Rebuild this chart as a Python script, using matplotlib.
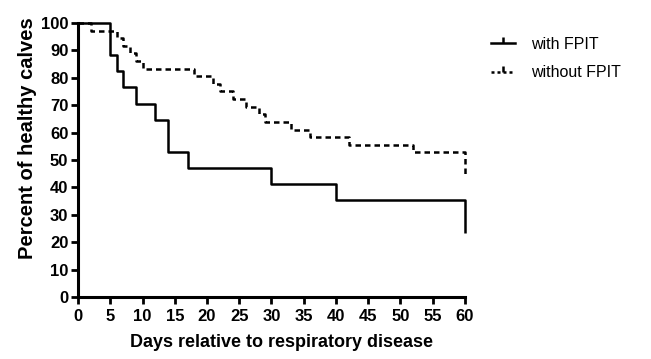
import matplotlib
matplotlib.use("Agg")
import matplotlib.pyplot as plt
from matplotlib.lines import Line2D

plt.rcParams['font.family'] = ['Liberation Sans', 'DejaVu Sans']

# Kaplan-Meier style curves (step after event)
days_with = [0, 5, 6, 7, 9, 12, 14, 17, 30, 40, 60]
pct_with = [100, 88.2, 82.4, 76.5, 70.6, 64.7, 52.9, 47.1, 41.2, 35.3, 23.5]

days_without = [0, 2, 6, 7, 8, 9, 10, 18, 21, 22, 24, 26, 28, 29, 33, 36, 42, 52, 60]
pct_without = [100, 97.2, 94.4, 91.7, 88.9, 86.1, 83.3, 80.6, 77.8, 75.0, 72.2,
               69.4, 66.7, 63.9, 61.1, 58.3, 55.6, 52.8, 45.0]

x_ticks = list(range(0, 61, 5))
y_ticks = list(range(0, 101, 10))

fig = plt.figure(figsize=(6.51, 3.59), dpi=100)
ax = fig.add_axes([0.12, 0.173, 0.594, 0.763])

ax.plot(days_with, pct_with, drawstyle='steps-post', color='black', lw=1.8,
        clip_on=False, solid_capstyle='butt')
ax.plot(days_without, pct_without, drawstyle='steps-post', color='black', lw=1.8,
        linestyle=(0, (2.2, 1.6)), clip_on=False)

ax.set_xlim(0, 60)
ax.set_ylim(0, 100)
ax.set_xticks(x_ticks)
ax.set_yticks(y_ticks)

for s in ['top', 'right']:
    ax.spines[s].set_visible(False)
for s in ['left', 'bottom']:
    ax.spines[s].set_linewidth(2.2)
ax.tick_params(direction='out', length=5, width=2, labelsize=12)
ax.tick_params(axis='x', pad=4)
ax.tick_params(axis='y', pad=2)
for lab in ax.get_xticklabels() + ax.get_yticklabels():
    lab.set_fontweight('bold')

ax.set_xlabel("Days relative to respiratory disease", fontsize=13, fontweight='bold', labelpad=7)
ax.set_ylabel("Percent of healthy calves", fontsize=14.5, fontweight='bold', labelpad=3)
ax.xaxis.label.set_x(0.525)
ax.yaxis.label.set_y(0.58)

handles = [
    Line2D([], [], color='black', lw=1.8, marker=2, markersize=4, markeredgewidth=1.8),
    Line2D([], [], color='black', lw=1.8, linestyle=(0, (1.2, 1.2)), marker=2,
           markersize=4, markeredgewidth=1.8),
]
fig.legend(handles, ["with FPIT", "without FPIT"], loc='upper left',
           bbox_to_anchor=(0.745, 0.915), frameon=False, fontsize=11.5,
           handlelength=1.5, handletextpad=1.0, labelspacing=0.85, borderaxespad=0)

fig.savefig("out.png", dpi=100)
